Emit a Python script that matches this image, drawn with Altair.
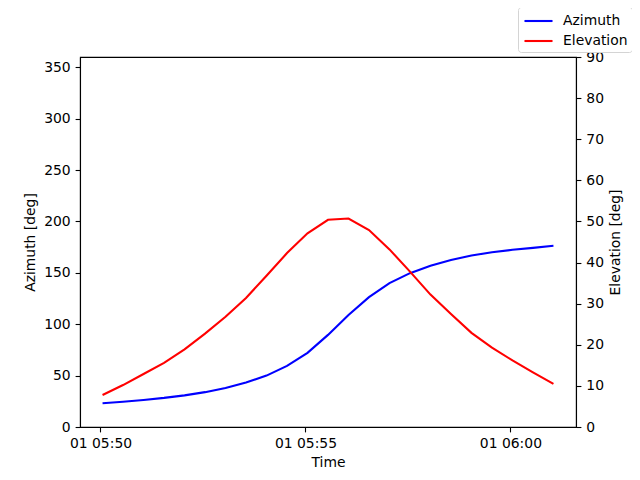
import altair as alt
import pandas as pd

times = [
    "2024-01-01T05:50:03", "2024-01-01T05:50:33", "2024-01-01T05:51:03", "2024-01-01T05:51:33",
    "2024-01-01T05:52:03", "2024-01-01T05:52:33", "2024-01-01T05:53:03", "2024-01-01T05:53:33",
    "2024-01-01T05:54:03", "2024-01-01T05:54:33", "2024-01-01T05:55:03", "2024-01-01T05:55:33",
    "2024-01-01T05:56:03", "2024-01-01T05:56:33", "2024-01-01T05:57:03", "2024-01-01T05:57:33",
    "2024-01-01T05:58:03", "2024-01-01T05:58:33", "2024-01-01T05:59:03", "2024-01-01T05:59:33",
    "2024-01-01T06:00:03", "2024-01-01T06:00:33", "2024-01-01T06:01:03",
]
azimuth = [23.1, 24.6, 26.3, 28.3, 30.8, 33.9, 37.9, 43.3, 50.0, 59.4, 72.2, 89.6,
           109.0, 126.3, 140.0, 149.7, 157.0, 162.5, 166.8, 170.1, 172.4, 174.3, 176.3]
elevation = [7.8, 10.2, 12.9, 15.6, 18.9, 22.7, 26.8, 31.4, 36.8, 42.3, 47.1, 50.4,
             50.7, 47.9, 43.2, 37.8, 32.2, 27.5, 22.9, 19.3, 16.2, 13.3, 10.5]

df = pd.DataFrame({"time": times, "az": azimuth, "el": elevation})

FONT = "DejaVu Sans"
FS = 13.9

def dt(h, m, s=0):
    return alt.DateTime(year=2024, month=1, date=1, hours=h, minutes=m, seconds=s)

xenc = alt.X(
    "time:T",
    scale=alt.Scale(domain=[dt(5, 49, 30), dt(6, 1, 36)]),
    axis=alt.Axis(values=[dt(5, 50), dt(5, 55), dt(6, 0)], format="%d %H:%M",
                  title="Time", titlePadding=5, labelFlush=False, labelOverlap=False),
)

color = alt.Color(
    "series:N",
    scale=alt.Scale(domain=["Azimuth", "Elevation"], range=["#0000ff", "#ff0000"]),
    legend=alt.Legend(
        title=None, orient="none", legendX=438, legendY=-50,
        symbolType="M-1.65,0L1.65,0", symbolSize=289, symbolStrokeWidth=2.1,
        symbolOffset=6.5,
        labelFontSize=FS, labelFont=FONT, labelColor="black", labelOffset=14.5,
        rowPadding=3, padding=4, strokeColor="#d4d4d4", fillColor="white",
        cornerRadius=3, labelLimit=200,
    ),
)

az = alt.Chart(df).transform_calculate(series="'Azimuth'").mark_line(strokeWidth=2.1).encode(
    x=xenc,
    y=alt.Y("az:Q", scale=alt.Scale(domain=[0, 360], nice=False),
            axis=alt.Axis(orient="left", values=list(range(0, 351, 50)),
                          title="Azimuth [deg]", titlePadding=6)),
    color=color,
)

el = alt.Chart(df).transform_calculate(series="'Elevation'").mark_line(strokeWidth=2.1).encode(
    x=xenc,
    y=alt.Y("el:Q", scale=alt.Scale(domain=[0, 90], nice=False),
            axis=alt.Axis(orient="right", values=list(range(0, 91, 10)),
                          title="Elevation [deg]", titleAngle=270,
                          titleX=39, titleY=185, titleBaseline="middle", titleAlign="center")),
    color=color,
)

chart = alt.layer(az, el).resolve_scale(y="independent").properties(
    width=496, height=370,
    autosize=alt.AutoSizeParams(type="none"),
    padding={"left": 72, "top": 49, "right": 56, "bottom": 45},
).configure(font=FONT).configure_view(
    stroke="black", strokeWidth=1.1
).configure_axis(
    grid=False, domainColor="black", domainWidth=1.1, tickColor="black",
    tickWidth=1.1, tickSize=4.9, labelPadding=4.9, labelFontSize=FS,
    labelColor="black", labelFont=FONT, titleFont=FONT, titleFontSize=FS,
    titleFontWeight="normal", titleColor="black",
)

chart.save("out.html", embed_options={"renderer": "svg", "actions": False})
